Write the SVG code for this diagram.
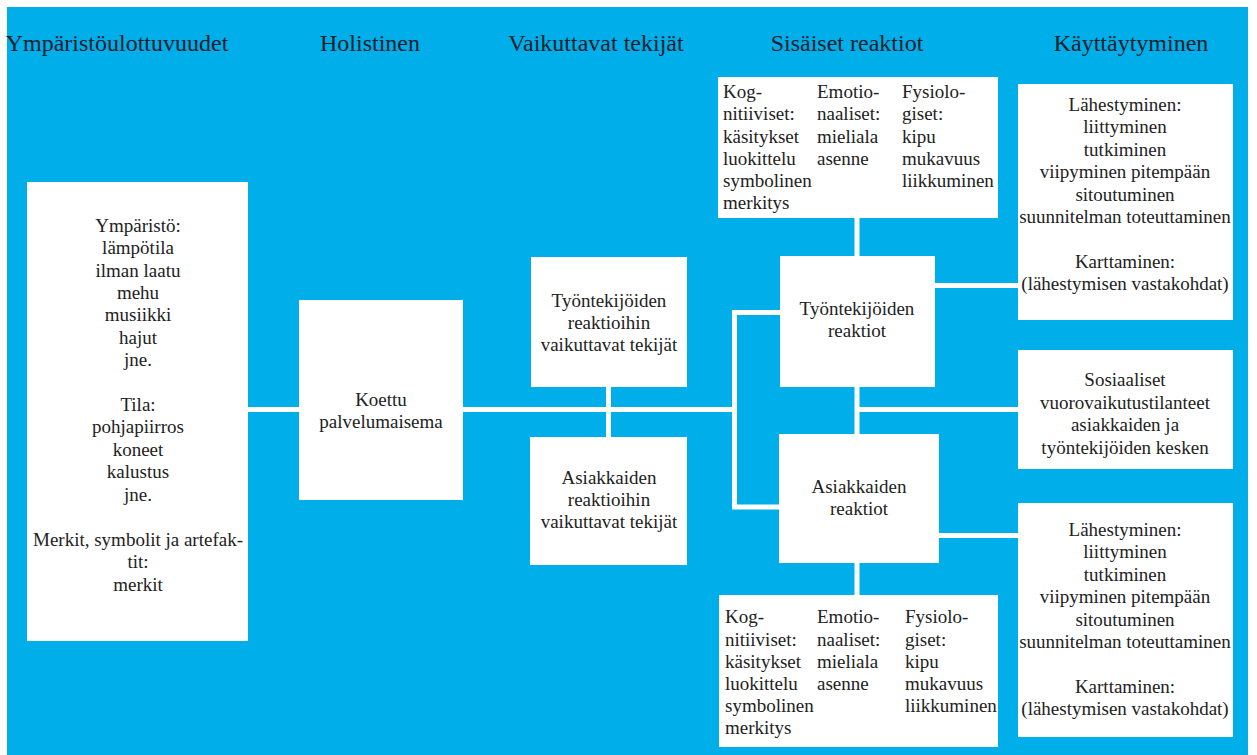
<svg xmlns="http://www.w3.org/2000/svg" width="1257" height="755" viewBox="0 0 1257 755">
<style>
.bg{fill:#00AEEA}
.box{fill:#ffffff}
text{font-family:'Liberation Serif','Tinos','DejaVu Serif',serif}
.hd{font-size:24px;fill:#14202c;text-anchor:middle}
.t{font-size:19px;fill:#222222;text-anchor:middle}
.l{font-size:19px;fill:#222222;text-anchor:start}
.c{stroke:#ffffff;stroke-width:5;fill:none}
</style>
<rect x="0" y="0" width="1257" height="755" fill="#ffffff"/>
<rect class="bg" x="7" y="7" width="1241" height="748"/>
<g id="headers" font-family="Liberation Serif, serif">
<text class="hd" x="117" y="51">Ympäristöulottuvuudet</text>
<text class="hd" x="370" y="51">Holistinen</text>
<text class="hd" x="596" y="51">Vaikuttavat tekijät</text>
<text class="hd" x="847" y="51">Sisäiset reaktiot</text>
<text class="hd" x="1131" y="51">Käyttäytyminen</text>
</g>
<g id="connectors">
<line class="c" x1="248" y1="409.5" x2="735" y2="409.5"/>
<line class="c" x1="608.5" y1="387" x2="608.5" y2="437"/>
<polyline class="c" points="780,312.5 734.5,312.5 734.5,507 780,507"/>
<line class="c" x1="857" y1="218" x2="857" y2="256"/>
<line class="c" x1="857" y1="387" x2="857" y2="434"/>
<line class="c" x1="857" y1="409.5" x2="1018" y2="409.5"/>
<line class="c" x1="935" y1="285.5" x2="1018" y2="285.5"/>
<line class="c" x1="939" y1="535.5" x2="1018" y2="535.5"/>
<line class="c" x1="857" y1="563" x2="857" y2="595"/>
</g>
<g id="ymparisto" font-family="Liberation Serif, serif">
<rect class="box" x="27" y="182" width="221" height="459"/>
<text class="t" x="138" y="232">Ympäristö:</text>
<text class="t" x="138" y="254">lämpötila</text>
<text class="t" x="138" y="277">ilman laatu</text>
<text class="t" x="138" y="299">mehu</text>
<text class="t" x="138" y="321">musiikki</text>
<text class="t" x="138" y="344">hajut</text>
<text class="t" x="138" y="366">jne.</text>
<text class="t" x="138" y="411">Tila:</text>
<text class="t" x="138" y="433">pohjapiirros</text>
<text class="t" x="138" y="456">koneet</text>
<text class="t" x="138" y="478">kalustus</text>
<text class="t" x="138" y="501">jne.</text>
<text class="t" x="138" y="546">Merkit, symbolit ja artefak-</text>
<text class="t" x="138" y="568">tit:</text>
<text class="t" x="138" y="591">merkit</text>
</g>
<g id="koettu">
<rect class="box" x="299" y="300" width="164" height="200"/>
<text class="t" x="381" y="406">Koettu</text>
<text class="t" x="381" y="428">palvelumaisema</text>
</g>
<g id="tyontekijoiden-tekijat">
<rect class="box" x="531" y="257" width="156" height="130"/>
<text class="t" x="609" y="307">Työntekijöiden</text>
<text class="t" x="609" y="329">reaktioihin</text>
<text class="t" x="609" y="351">vaikuttavat tekijät</text>
</g>
<g id="asiakkaiden-tekijat">
<rect class="box" x="530" y="437" width="157" height="128"/>
<text class="t" x="609" y="484">Asiakkaiden</text>
<text class="t" x="609" y="506">reaktioihin</text>
<text class="t" x="609" y="528">vaikuttavat tekijät</text>
</g>
<g id="sisaiset-yla">
<rect class="box" x="718" y="77" width="280" height="141"/>
<text class="l" x="723" y="98">Kog-</text>
<text class="l" x="723" y="120">nitiiviset:</text>
<text class="l" x="723" y="143">käsitykset</text>
<text class="l" x="723" y="165">luokittelu</text>
<text class="l" x="723" y="187">symbolinen</text>
<text class="l" x="723" y="209">merkitys</text>
<text class="l" x="817" y="98">Emotio-</text>
<text class="l" x="817" y="120">naaliset:</text>
<text class="l" x="817" y="143">mieliala</text>
<text class="l" x="817" y="165">asenne</text>
<text class="l" x="902" y="98">Fysiolo-</text>
<text class="l" x="902" y="120">giset:</text>
<text class="l" x="902" y="143">kipu</text>
<text class="l" x="902" y="165">mukavuus</text>
<text class="l" x="902" y="187">liikkuminen</text>
</g>
<g id="tyontekijoiden-reaktiot">
<rect class="box" x="780" y="256" width="155" height="131"/>
<text class="t" x="857" y="315">Työntekijöiden</text>
<text class="t" x="857" y="337">reaktiot</text>
</g>
<g id="asiakkaiden-reaktiot">
<rect class="box" x="779" y="434" width="160" height="129"/>
<text class="t" x="859" y="493">Asiakkaiden</text>
<text class="t" x="859" y="515">reaktiot</text>
</g>
<g id="sisaiset-ala">
<rect class="box" x="719" y="595" width="279" height="152"/>
<text class="l" x="725" y="623">Kog-</text>
<text class="l" x="725" y="646">nitiiviset:</text>
<text class="l" x="725" y="668">käsitykset</text>
<text class="l" x="725" y="690">luokittelu</text>
<text class="l" x="725" y="712">symbolinen</text>
<text class="l" x="725" y="734">merkitys</text>
<text class="l" x="817" y="623">Emotio-</text>
<text class="l" x="817" y="646">naaliset:</text>
<text class="l" x="817" y="668">mieliala</text>
<text class="l" x="817" y="690">asenne</text>
<text class="l" x="905" y="623">Fysiolo-</text>
<text class="l" x="905" y="646">giset:</text>
<text class="l" x="905" y="668">kipu</text>
<text class="l" x="905" y="690">mukavuus</text>
<text class="l" x="905" y="712">liikkuminen</text>
</g>
<g id="kayttaytyminen-tyontekijat">
<rect class="box" x="1018" y="84" width="215" height="236"/>
<text class="t" x="1125" y="111">Lähestyminen:</text>
<text class="t" x="1125" y="133">liittyminen</text>
<text class="t" x="1125" y="156">tutkiminen</text>
<text class="t" x="1125" y="178">viipyminen pitempään</text>
<text class="t" x="1125" y="201">sitoutuminen</text>
<text class="t" x="1125" y="223">suunnitelman toteuttaminen</text>
<text class="t" x="1125" y="268">Karttaminen:</text>
<text class="t" x="1125" y="290">(lähestymisen vastakohdat)</text>
</g>
<g id="sosiaaliset">
<rect class="box" x="1018" y="350" width="215" height="119"/>
<text class="t" x="1125" y="386">Sosiaaliset</text>
<text class="t" x="1125" y="409">vuorovaikutustilanteet</text>
<text class="t" x="1125" y="431">asiakkaiden ja</text>
<text class="t" x="1125" y="454">työntekijöiden kesken</text>
</g>
<g id="kayttaytyminen-asiakkaat">
<rect class="box" x="1018" y="503" width="215" height="234"/>
<text class="t" x="1125" y="536">Lähestyminen:</text>
<text class="t" x="1125" y="558">liittyminen</text>
<text class="t" x="1125" y="581">tutkiminen</text>
<text class="t" x="1125" y="603">viipyminen pitempään</text>
<text class="t" x="1125" y="626">sitoutuminen</text>
<text class="t" x="1125" y="648">suunnitelman toteuttaminen</text>
<text class="t" x="1125" y="693">Karttaminen:</text>
<text class="t" x="1125" y="715">(lähestymisen vastakohdat)</text>
</g>
</svg>
